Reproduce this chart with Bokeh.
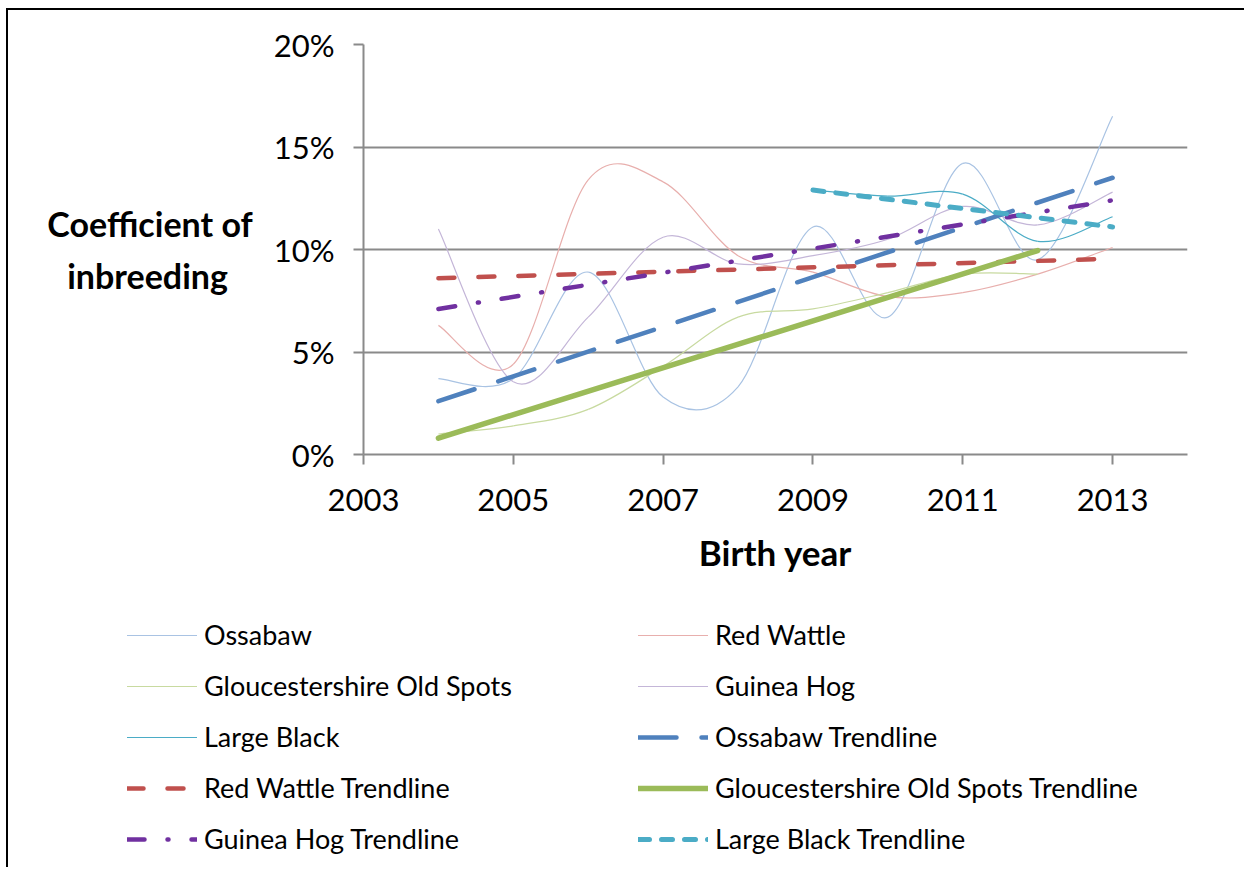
import numpy as np
from bokeh.plotting import figure
from bokeh.models import (Legend, LegendItem, FixedTicker,
                          PrintfTickFormatter, Range1d)
from bokeh.embed import file_html
from bokeh.resources import INLINE

# ---------------- data (percent) ----------------
years = [2004, 2005, 2006, 2007, 2008, 2009, 2010, 2011, 2012, 2013]
ossabaw = [3.7, 3.7, 8.9, 2.8, 3.3, 11.1, 6.7, 14.2, 9.5, 16.5]
red_wattle = [6.3, 4.4, 13.4, 13.3, 9.7, 8.9, 7.7, 7.9, 8.8, 10.1]
gos_years = [2004, 2005, 2006, 2007, 2008, 2009, 2010, 2011, 2012]
gloucestershire = [1.0, 1.4, 2.2, 4.3, 6.7, 7.1, 7.9, 8.8, 8.8]
guinea_hog = [11.0, 3.55, 6.7, 10.6, 9.3, 9.7, 10.5, 12.1, 11.2, 12.8]
lb_years = [2009, 2010, 2011, 2012, 2013]
large_black = [12.9, 12.6, 12.7, 10.4, 11.6]

# linear trendlines (end points)
ossabaw_trend_x = [2004, 2013]
ossabaw_trend_y = [2.6, 13.5]
red_wattle_trend_x = [2004, 2013]
red_wattle_trend_y = [8.6, 9.55]
gos_trend_x = [2004, 2012]
gos_trend_y = [0.8, 9.95]
guinea_trend_x = [2004, 2013]
guinea_trend_y = [7.1, 12.4]
lb_trend_x = [2009, 2013]
lb_trend_y = [12.9, 11.1]

x_ticks = [2003, 2005, 2007, 2009, 2011, 2013]
y_ticks = [0, 5, 10, 15, 20]

FONT = "Lato"
GRID = "#8A8A8A"
NB = "\u00a0"

# styles: (label, color, width, dash)
series_styles = [
    ("Ossabaw", "#A9C3E3", 1.2, "solid"),
    ("Red Wattle", "#E8AFAD", 1.2, "solid"),
    ("Gloucestershire Old Spots", "#C8DAA0", 1.2, "solid"),
    ("Guinea Hog", "#C4B6D8", 1.2, "solid"),
    ("Large Black", "#4BACC6", 1.2, "solid"),
]
trend_styles = [
    ("Ossabaw Trendline", "#4F81BD", 4.5, "38 25"),
    ("Red Wattle Trendline", "#C0504D", 4.5, "16 24"),
    ("Gloucestershire Old Spots Trendline", "#9BBB59", 5.5, "solid"),
    ("Guinea Hog Trendline", "#7030A0", 4.5, "17 23 1 23"),
    ("Large Black Trendline", "#4BACC6", 5, "11 12"),
]


def smooth_segments(xs, ys):
    """Bezier control points (Catmull-Rom style, like Excel's smoothed line)."""
    xs = np.asarray(xs, float)
    ys = np.asarray(ys, float)
    n = len(xs)
    xp = np.concatenate([[xs[0]], xs, [xs[-1]]])
    yp = np.concatenate([[ys[0]], ys, [ys[-1]]])
    cx0 = xs[:-1] + (xp[2:n + 1] - xp[0:n - 1]) / 6.0
    cy0 = ys[:-1] + (yp[2:n + 1] - yp[0:n - 1]) / 6.0
    cx1 = xs[1:] - (xp[3:n + 2] - xp[1:n]) / 6.0
    cy1 = ys[1:] - (yp[3:n + 2] - yp[1:n]) / 6.0
    return dict(x0=xs[:-1], y0=ys[:-1], x1=xs[1:], y1=ys[1:],
                cx0=cx0, cy0=cy0, cx1=cx1, cy1=cy1)


p = figure(frame_width=824, frame_height=410,
           min_border_left=355, min_border_top=34,
           min_border_right=57, min_border_bottom=146,
           x_range=Range1d(2003, 2014), y_range=Range1d(0, 20),
           output_backend="svg", toolbar_location=None,
           background_fill_color="white", border_fill_color="white")
p.outline_line_color = None
p.styles = {"margin-left": "6px", "margin-top": "8px",
            "border-left": "2px solid black", "border-top": "2px solid black"}

# axes
for ax in (p.xaxis[0], p.yaxis[0]):
    ax.axis_line_color = GRID
    ax.axis_line_width = 2
    ax.major_tick_line_color = GRID
    ax.major_tick_line_width = 2
    ax.major_tick_out = 10
    ax.major_tick_in = 0
    ax.minor_tick_line_color = None
    ax.major_label_text_font = FONT
    ax.major_label_text_font_size = "31px"
    ax.major_label_text_color = "black"

p.xaxis.ticker = FixedTicker(ticks=x_ticks)
p.xaxis.formatter = PrintfTickFormatter(format="%d")
p.xaxis.major_label_standoff = 24
p.xaxis.axis_label = "Birth year"
p.xaxis.axis_label_text_font = FONT
p.xaxis.axis_label_text_font_style = "bold"
p.xaxis.axis_label_text_font_size = "35px"
p.xaxis.axis_label_text_color = "black"
p.xaxis.axis_label_standoff = 17

p.yaxis.ticker = FixedTicker(ticks=y_ticks)
p.yaxis.formatter = PrintfTickFormatter(format="%d%%")
p.yaxis.major_label_standoff = 19
p.yaxis.axis_label = "Coefficient of\ninbreeding" + NB * 3
p.yaxis.axis_label_orientation = "horizontal"
p.yaxis.axis_label_text_font = FONT
p.yaxis.axis_label_text_font_style = "bold"
p.yaxis.axis_label_text_font_size = "34px"
p.yaxis.axis_label_text_color = "black"
p.yaxis.axis_label_text_line_height = 1.25
p.yaxis.axis_label_standoff = 18

p.xgrid.visible = False
p.ygrid.ticker = FixedTicker(ticks=y_ticks)
p.ygrid.grid_line_color = GRID
p.ygrid.grid_line_width = 2

# thin smoothed series
series_data = [(years, ossabaw), (years, red_wattle),
               (gos_years, gloucestershire), (years, guinea_hog),
               (lb_years, large_black)]
for (xs, ys), (_, col, w, _d) in zip(series_data, series_styles):
    p.bezier(line_color=col, line_width=w, **smooth_segments(xs, ys))

# trendlines
trend_data = [(ossabaw_trend_x, ossabaw_trend_y),
              (red_wattle_trend_x, red_wattle_trend_y),
              (gos_trend_x, gos_trend_y),
              (guinea_trend_x, guinea_trend_y),
              (lb_trend_x, lb_trend_y)]
for (xs, ys), (_, col, w, d) in zip(trend_data, trend_styles):
    p.line(xs, ys, line_color=col, line_width=w, line_dash=d, line_cap="round")

# ---------------- legend canvas (separate root below the chart) ----------------
p2 = figure(width=1236, height=267, x_range=Range1d(0, 1),
            y_range=Range1d(0, 1), x_axis_type=None, y_axis_type=None,
            min_border=0, output_backend="svg", toolbar_location=None,
            background_fill_color="white", border_fill_color="white")
p2.outline_line_color = None
p2.styles = {"margin-left": "6px", "border-left": "2px solid black"}

items = []
for lab, col, w, d in series_styles + trend_styles:
    # off-canvas stand-in so the legend can draw the line sample
    r = p2.line(x=[-10, -9], y=[-10, -10], line_color=col, line_width=w,
                line_dash=d, line_cap="round")
    items.append(LegendItem(label=lab, renderers=[r]))

legend = Legend(items=items, location=(119, 12), orientation="horizontal",
                ncols=2, glyph_width=70, glyph_height=30, label_height=30,
                label_width=416, label_standoff=7, spacing=18, padding=0,
                margin=0, border_line_color=None, background_fill_alpha=0,
                label_text_font=FONT, label_text_font_size="27px",
                label_text_color="black")
p2.add_layout(legend, "center")

open("out.html", "w").write(file_html([p, p2], INLINE))
